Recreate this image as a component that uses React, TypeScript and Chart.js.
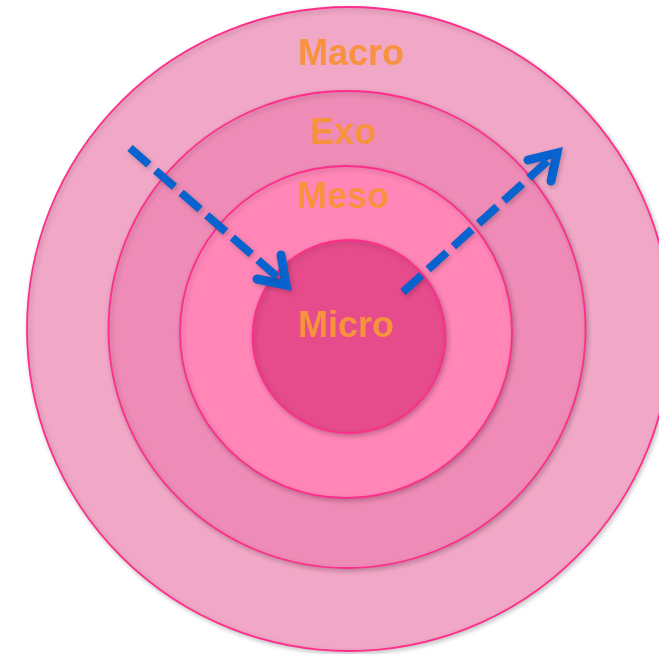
import React, { useEffect, useRef } from "react";
import { Chart, registerables } from "chart.js";

Chart.register(...registerables);

// Ring layers (centre and radius in page units)
const layers = ["Macro", "Exo", "Meso", "Micro"];
const centerX = [349, 347, 346, 349];
const centerY = [329, 329.5, 332, 336.5];
const radius = [322, 238.5, 166, 96.5];
const fillColors = ["#F1A7C6", "#EE8BB6", "#FF86B7", "#E64B8B"];

// Label anchor positions (centre x, baseline y)
const labelX = [351, 343, 343, 346];
const labelY = [65, 144, 208, 337];

// Inward arrow (shaft + head)
const inShaftX = [130, 282];
const inShaftY = [148, 281];
const inHeadX = [257, 286, 281];
const inHeadY = [279, 285, 255];

// Outward arrow (shaft + head)
const outShaftX = [403, 552];
const outShaftY = [292, 157];
const outHeadX = [528, 557, 551];
const outHeadY = [160, 153, 181];

const zip = (xs: number[], ys: number[]) => xs.map((x, i) => ({ x, y: ys[i] }));

const shadowPlugin = {
  id: "softShadow",
  beforeDatasetDraw(chart: any) {
    const ctx = chart.ctx;
    ctx.save();
    ctx.shadowColor = "rgba(0,0,0,0.22)";
    ctx.shadowBlur = 5;
    ctx.shadowOffsetX = 1.5;
    ctx.shadowOffsetY = 2;
  },
  afterDatasetDraw(chart: any) {
    chart.ctx.restore();
  },
};

const labelPlugin = {
  id: "ringLabels",
  afterDatasetsDraw(chart: any) {
    const ctx = chart.ctx;
    const xs = chart.scales.x;
    const ys = chart.scales.y;
    ctx.save();
    ctx.font = 'bold 36px "Liberation Sans", Arial, sans-serif';
    ctx.fillStyle = "#F7923F";
    ctx.textAlign = "center";
    ctx.textBaseline = "alphabetic";
    layers.forEach((name, i) => {
      ctx.fillText(name, xs.getPixelForValue(labelX[i]), ys.getPixelForValue(labelY[i]));
    });
    ctx.restore();
  },
};

export default function App() {
  const ref = useRef<HTMLCanvasElement>(null);

  useEffect(() => {
    if (!ref.current) return;
    const arrowBase = {
      type: "line" as const,
      showLine: true,
      borderColor: "#0863CF",
      borderWidth: 8,
      pointRadius: 0,
      tension: 0,
      fill: false,
      order: 0,
    };
    const ringRadius = (c: any) => {
      const xs = c.chart.scales.x;
      if (!xs) return 0;
      const i = c.dataIndex;
      return xs.getPixelForValue(centerX[i] + radius[i]) - xs.getPixelForValue(centerX[i]);
    };
    const chart = new Chart(ref.current, {
      type: "scatter",
      data: {
        datasets: [
          {
            label: "layers",
            data: zip(centerX, centerY),
            backgroundColor: fillColors,
            borderColor: "#FF2E8C",
            borderWidth: 1.8,
            pointRadius: ringRadius,
            pointHoverRadius: ringRadius,
            order: 1,
          } as any,
          { ...arrowBase, label: "in", data: zip(inShaftX, inShaftY), borderDash: [25, 9], borderCapStyle: "butt" } as any,
          { ...arrowBase, label: "inHead", data: zip(inHeadX, inHeadY), borderWidth: 9, borderCapStyle: "round", borderJoinStyle: "miter" } as any,
          { ...arrowBase, label: "out", data: zip(outShaftX, outShaftY), borderDash: [25, 9], borderCapStyle: "butt" } as any,
          { ...arrowBase, label: "outHead", data: zip(outHeadX, outHeadY), borderWidth: 9, borderCapStyle: "round", borderJoinStyle: "miter" } as any,
        ],
      },
      options: {
        animation: false,
        responsive: false,
        maintainAspectRatio: false,
        layout: { padding: 0 },
        events: [],
        plugins: { legend: { display: false }, tooltip: { enabled: false } },
        scales: {
          x: { type: "linear", min: 0, max: 659, display: false },
          y: { type: "linear", min: 0, max: 654, reverse: true, display: false },
        },
      },
      plugins: [shadowPlugin, labelPlugin],
    } as any);
    return () => chart.destroy();
  }, []);

  return (
    <div style={{ position: "absolute", left: 0, top: 0, width: 659, height: 654, background: "#fff" }}>
      <canvas ref={ref} width={659} height={654} style={{ display: "block" }} />
    </div>
  );
}
